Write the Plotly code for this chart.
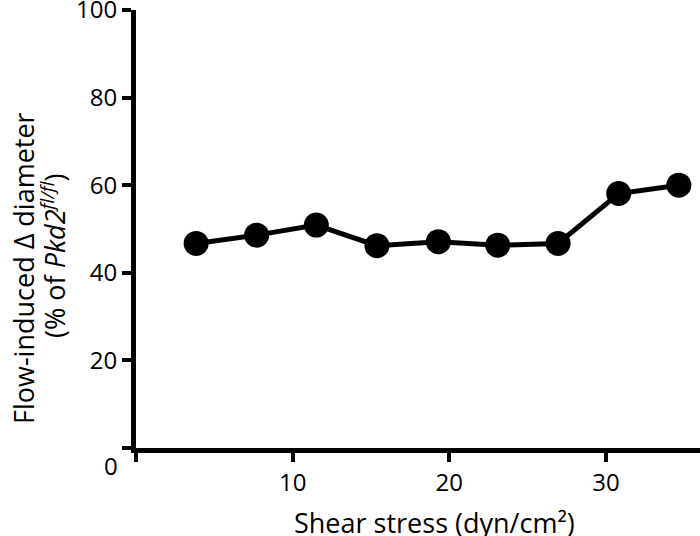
import plotly.graph_objects as go

# Data
shear_stress = [3.84, 7.70, 11.51, 15.38, 19.30, 23.09, 26.94, 30.81, 34.65]
flow_induced = [46.7, 48.6, 50.9, 46.2, 47.1, 46.3, 46.7, 58.1, 60.0]

x_tickvals = [0, 10, 20, 30]
x_ticktext = ["", "10", "20", "30"]
y_tickvals = [0, 20, 40, 60, 80, 100]
y_ticktext = ["", "20", "40", "60", "80", "100"]

FONT = "Open Sans, Lato, DejaVu Sans, sans-serif"
L, R, T, B = 136, 0, 10, 88
W, H = 700, 536

fig = go.Figure()
fig.add_trace(go.Scatter(
    x=shear_stress, y=flow_induced, mode="lines+markers",
    line=dict(color="black", width=5),
    marker=dict(color="black", size=25),
    cliponaxis=False,
    showlegend=False,
))

axis_common = dict(
    showgrid=False, zeroline=False, automargin=False,
    showline=True, linecolor="black", linewidth=5,
    ticks="outside", ticklen=9, tickwidth=4, tickcolor="black",
    tickfont=dict(size=24), ticklabeloverflow="allow",
)
fig.update_layout(
    template="none",
    width=W, height=H,
    margin=dict(l=L, r=R, t=T, b=B),
    paper_bgcolor="white", plot_bgcolor="white",
    font=dict(family=FONT, size=24, color="black"),
    xaxis=dict(range=[0, 36], tickvals=x_tickvals, ticktext=x_ticktext, **axis_common),
    yaxis=dict(range=[0, 100], tickvals=y_tickvals, ticktext=y_ticktext, **axis_common),
)

pw, ph = W - L - R, H - T - B
def px2paper(px, py):
    return (px - L) / pw, (H - B - py) / ph

# corner "0" label (offset below the axis as in the reference)
fig.add_annotation(x=0, y=0, xref="x", yref="y", text="0", showarrow=False,
                   xanchor="center", yanchor="middle",
                   xshift=-25, yshift=-17, font=dict(size=24))

# x-axis title
ax, ay = px2paper(434, 522)
fig.add_annotation(x=ax, y=ay, xref="paper", yref="paper", text="Shear stress (dyn/cm²)",
                   xanchor="center", yanchor="middle",
                   showarrow=False, font=dict(size=27))
# y-axis title, two lines
ax, ay = px2paper(23, 268)
fig.add_annotation(x=ax, y=ay, xref="paper", yref="paper",
                   text="Flow-induced Δ diameter", textangle=-90,
                   xanchor="center", yanchor="middle",
                   showarrow=False, font=dict(size=27))
ax, ay = px2paper(53, 256)
fig.add_annotation(x=ax, y=ay, xref="paper", yref="paper",
                   text="(% of <i>Pkd2</i><sup><i>fl/fl</i></sup>)", textangle=-90,
                   xanchor="center", yanchor="middle",
                   showarrow=False, font=dict(size=27))

fig.write_html("out.html", config={"displayModeBar": False},
               post_script="document.body.style.margin='0';document.body.style.overflow='hidden';")
